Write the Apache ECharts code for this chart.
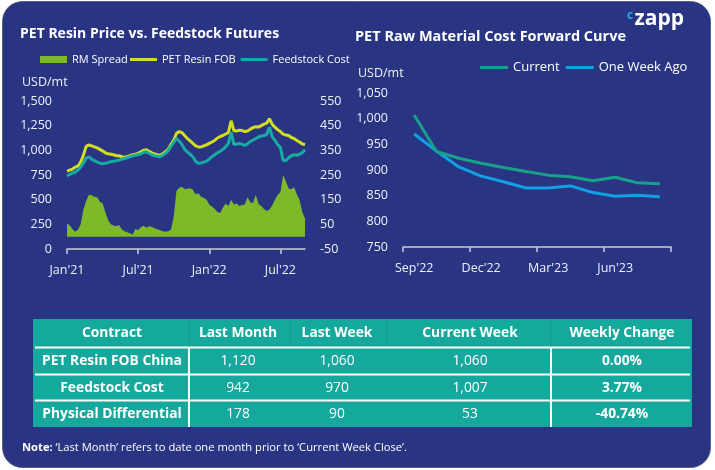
<!DOCTYPE html>
<html>
<head>
<meta charset="utf-8">
<script src="https://cdn.jsdelivr.net/npm/echarts@6/dist/echarts.min.js"></script>
<style>
html,body{margin:0;padding:0;background:#ffffff;}
#chart{width:715px;height:470px;}
</style>
</head>
<body>
<div id="chart"></div>
<script>
// ---------- Left chart data (weekly, from Jan 1 2021) ----------
const resinFOB = [790,800,810,830,840,880,950,1040,1055,1045,1035,1025,1010,995,975,965,960,955,945,945,935,930,935,945,955,960,970,985,1000,1005,990,975,965,955,950,965,985,1010,1060,1100,1170,1190,1180,1150,1120,1095,1070,1045,1035,1035,1045,1055,1070,1085,1100,1125,1140,1150,1165,1180,1300,1200,1195,1205,1200,1190,1195,1215,1230,1240,1235,1250,1265,1275,1320,1265,1235,1210,1190,1165,1155,1150,1130,1120,1100,1085,1065,1060];
const feedstockCost = [740,755,770,780,800,830,870,920,935,910,895,880,870,865,868,875,885,890,895,902,910,918,925,935,945,950,955,965,980,985,970,955,945,940,935,950,970,995,1040,1080,1120,1095,1060,1010,985,960,935,890,870,872,880,890,910,935,955,975,990,1010,1035,1070,1185,1060,1065,1070,1060,1050,1065,1090,1105,1120,1135,1145,1150,1160,1235,1140,1100,1060,1030,900,895,925,945,955,950,960,975,1005];
const rmSpread = [54,45,30,20,28,50,110,145,170,168,162,160,142,135,100,68,50,45,42,47,30,22,18,14,8,32,26,38,44,36,42,40,34,30,26,22,20,22,28,80,185,198,202,192,194,196,190,172,176,162,158,150,130,122,112,100,96,118,134,124,150,130,134,124,128,130,160,140,136,170,132,124,112,104,110,126,150,170,180,250,225,195,192,200,172,150,100,74];
const leftTickLabels = {0:"Jan'21", 26:"Jul'21", 52:"Jan'22", 78:"Jul'22"};

// ---------- Right chart data ----------
const curveMonths = ["Sep'22","Oct'22","Nov'22","Dec'22","Jan'23","Feb'23","Mar'23","Apr'23","May'23","Jun'23","Jul'23","Aug'23"];
const curveCurrent = [1007,936,923,913,905,897,890,887,879,886,875,873];
const curveWeekAgo = [970,937,906,888,877,865,865,869,856,849,851,848];

// ---------- Table data ----------
const tableHeader = ["Contract","Last Month","Last Week","Current Week","Weekly Change"];
const tableContracts = ["PET Resin FOB China","Feedstock Cost","Physical Differential"];
const tableLastMonth = [1120,942,178];
const tableLastWeek = [1060,970,90];
const tableCurrentWeek = [1060,1007,53];
const tableWeeklyChange = ["0.00%","3.77%","-40.74%"];

// weekly category dates
const weekDates = [];
(function(){
  const start = Date.UTC(2021,0,1);
  for (let i = 0; i < resinFOB.length; i++) {
    const d = new Date(start + i*7*86400000);
    weekDates.push(d.toISOString().slice(0,10));
  }
})();

const FONT = "'Open Sans', 'Noto Sans', sans-serif";
const WHITE = '#ffffff';
const LABEL = '#eef0f7';
const AXIS = '#c9cbd8';
const TEAL_TABLE = '#15a89c';
const fmt = v => Number(v).toLocaleString('en-US');

// ---------- graphics: card, table, note, logo ----------
const g = [];
g.push({type:'rect', z:-100, shape:{x:2.5,y:1.5,width:708,height:466,r:20}, style:{fill:'#293582', stroke:'#4a4f6e', lineWidth:0.8}});

const colCenters = [112, 238, 337, 470, 622];
const tX0 = 33, tX1 = 692, tY0 = 319, tY1 = 427;
const rowTops = [319, 347.5, 374.5, 400.5, 427];
g.push({type:'rect', shape:{x:tX0,y:tY0,width:tX1-tX0,height:tY1-tY0}, style:{fill:TEAL_TABLE}});
[189, 290, 387, 551].forEach(x => g.push({type:'line', shape:{x1:x,y1:tY0,x2:x,y2:347}, style:{stroke:'#119a8f',lineWidth:1}}));
[347.5, 374.5, 400.5].forEach(y => g.push({type:'line', shape:{x1:35,y1:y,x2:690,y2:y}, style:{stroke:'#ffffff',lineWidth:2}}));
[189, 551].forEach(x => g.push({type:'line', shape:{x1:x,y1:348,x2:x,y2:tY1}, style:{stroke:'#ffffff',lineWidth:2}}));

function cellText(txt, x, y, bold){
  return {type:'text', style:{text:txt, x:x, y:y, textAlign:'center', textVerticalAlign:'middle', fill:WHITE, fontSize:13.8, fontWeight: bold?'bold':'normal', fontFamily:FONT}};
}
tableHeader.forEach((h,i) => g.push(cellText(h, colCenters[i], 333.5, true)));
for (let r = 0; r < tableContracts.length; r++) {
  const cy = (rowTops[r+1] + rowTops[r+2]) / 2 + 0.5;
  g.push(cellText(tableContracts[r], colCenters[0], cy, true));
  g.push(cellText(fmt(tableLastMonth[r]), colCenters[1], cy, false));
  g.push(cellText(fmt(tableLastWeek[r]), colCenters[2], cy, false));
  g.push(cellText(fmt(tableCurrentWeek[r]), colCenters[3], cy, false));
  g.push(cellText(tableWeeklyChange[r], colCenters[4], cy, true));
}
g.push({type:'text', style:{text:'{b|Note:} \u2018Last Month\u2019 refers to date one month prior to \u2018Current Week Close\u2019.', x:22, y:448, textVerticalAlign:'middle', fill:WHITE, fontSize:11.2, fontFamily:FONT, rich:{b:{fontWeight:'bold', fill:WHITE, fontSize:11.2, fontFamily:FONT}}}});
g.push({type:'text', style:{text:'USD/mt', x:22, y:82, textVerticalAlign:'middle', fill:LABEL, fontSize:12.5, fontFamily:FONT}});
g.push({type:'text', style:{text:'USD/mt', x:358, y:73, textVerticalAlign:'middle', fill:LABEL, fontSize:12.5, fontFamily:FONT}});
g.push({type:'text', style:{text:'c', x:627, y:15.5, textVerticalAlign:'middle', fill:'#2aa9e0', fontSize:11.5, fontWeight:'bold', fontFamily:FONT}});
g.push({type:'text', style:{text:'zapp', x:634.5, y:19.5, textVerticalAlign:'middle', fill:WHITE, fontSize:21, fontWeight:'bold', fontFamily:FONT}});

const chart = echarts.init(document.getElementById('chart'), null, {renderer:'canvas'});
const showTick = (idx) => Object.prototype.hasOwnProperty.call(leftTickLabels, idx);

const option = {
  animation: false,
  textStyle: {fontFamily: FONT},
  title: [
    {text:'PET Resin Price vs. Feedstock Futures', left:20, top:27, padding:0, textStyle:{color:WHITE, fontSize:14, fontWeight:'bold', fontFamily:FONT}},
    {text:'PET Raw Material Cost Forward Curve', left:355, top:29, padding:0, textStyle:{color:WHITE, fontSize:14.5, fontWeight:'bold', fontFamily:FONT}}
  ],
  legend: [
    {left:40, top:54, padding:0, itemWidth:27, itemHeight:7, itemGap:5, icon:'rect',
     textStyle:{color:WHITE, fontSize:11, fontFamily:FONT},
     data:['RM Spread']},
    {left:130, top:54, padding:0, itemWidth:27, itemHeight:3, itemGap:5, icon:'rect',
     textStyle:{color:WHITE, fontSize:11, fontFamily:FONT},
     data:['PET Resin FOB','Feedstock Cost']},
    {left:480, top:61, padding:0, itemWidth:28, itemHeight:3, itemGap:6, icon:'rect',
     textStyle:{color:WHITE, fontSize:13, fontFamily:FONT},
     data:['Current','One Week Ago']}
  ],
  grid: [
    {left:67, right:410, top:101, bottom:221, containLabel:false, outerBoundsMode:'none'},
    {left:403, right:44, top:93, bottom:223, containLabel:false, outerBoundsMode:'none'}
  ],
  xAxis: [
    {type:'category', gridIndex:0, data:weekDates, boundaryGap:false,
     axisLine:{lineStyle:{color:AXIS, width:1.5}},
     axisTick:{show:true, interval:(i)=>showTick(i), length:5, lineStyle:{color:AXIS, width:1.5}},
     axisLabel:{interval:(i)=>showTick(i), formatter:(v,i)=>leftTickLabels[i]||'', color:LABEL, fontSize:12.5, margin:15, fontFamily:FONT},
     splitLine:{show:false}},
    {type:'category', gridIndex:1, data:curveMonths, boundaryGap:true,
     axisLine:{lineStyle:{color:AXIS, width:1.5}},
     axisTick:{show:true, interval:2, length:5, lineStyle:{color:AXIS, width:1.5}},
     axisLabel:{interval:2, color:LABEL, fontSize:12.5, margin:15, fontFamily:FONT},
     splitLine:{show:false}}
  ],
  yAxis: [
    {type:'value', gridIndex:0, position:'left', min:0, max:1500, interval:250,
     axisLine:{show:false}, axisTick:{show:false}, splitLine:{show:false},
     axisLabel:{formatter:fmt, color:LABEL, fontSize:12.5, margin:15, fontFamily:FONT}},
    {type:'value', gridIndex:0, position:'right', min:-50, max:550, interval:100,
     axisLine:{show:false}, axisTick:{show:false}, splitLine:{show:false},
     axisLabel:{formatter:fmt, color:LABEL, fontSize:12.5, margin:15, fontFamily:FONT}},
    {type:'value', gridIndex:1, min:750, max:1050, interval:50,
     axisLine:{show:false}, axisTick:{show:false}, splitLine:{show:false},
     axisLabel:{formatter:fmt, color:LABEL, fontSize:12.5, margin:15, fontFamily:FONT}}
  ],
  series: [
    {name:'RM Spread', type:'line', xAxisIndex:0, yAxisIndex:1, data:rmSpread, symbol:'none',
     color:'#7db928', itemStyle:{color:'#7db928'}, lineStyle:{width:0, color:'#7db928'},
     areaStyle:{color:'#7db928', opacity:1}, z:1},
    {name:'PET Resin FOB', type:'line', xAxisIndex:0, yAxisIndex:0, data:resinFOB, symbol:'none',
     color:'#d4de1e', itemStyle:{color:'#d4de1e'}, lineStyle:{width:3, color:'#d4de1e'}, z:2},
    {name:'Feedstock Cost', type:'line', xAxisIndex:0, yAxisIndex:0, data:feedstockCost, symbol:'none',
     color:'#17aba4', itemStyle:{color:'#17aba4'}, lineStyle:{width:3, color:'#17aba4'}, z:3},
    {name:'Current', type:'line', xAxisIndex:1, yAxisIndex:2, data:curveCurrent, symbol:'none',
     color:'#18a08a', itemStyle:{color:'#18a08a'}, lineStyle:{width:3, color:'#18a08a'}, z:3},
    {name:'One Week Ago', type:'line', xAxisIndex:1, yAxisIndex:2, data:curveWeekAgo, symbol:'none',
     color:'#10a0e6', itemStyle:{color:'#10a0e6'}, lineStyle:{width:3, color:'#10a0e6'}, z:2}
  ],
  graphic: {elements: g}
};
chart.setOption(option);
</script>
</body>
</html>
